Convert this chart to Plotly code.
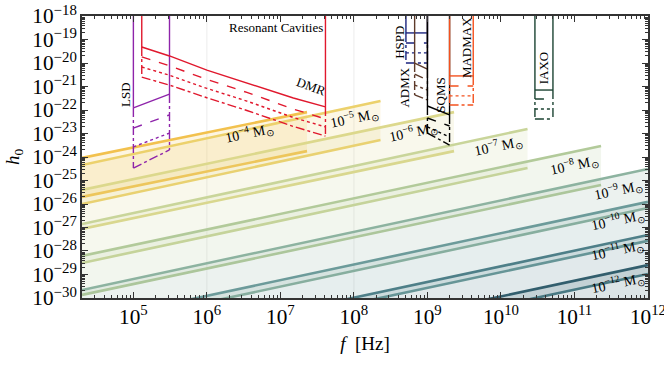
import numpy as np
import plotly.graph_objects as go

# ---- PBH binary bands (log10 of h0 at band start / end) ----
mass_labels = ["10<sup>−4</sup>", "10<sup>−5</sup>", "10<sup>−6</sup>", "10<sup>−7</sup>",
               "10<sup>−8</sup>", "10<sup>−9</sup>", "10<sup>−10</sup>", "10<sup>−11</sup>",
               "10<sup>−12</sup>"]
mass_colors = ["#f2c14e", "#ecd16c", "#dcd88c", "#c9d59a", "#b2ca9a",
               "#8db3a0", "#6c9b9a", "#4e7f88", "#325e6d"]
band_f_start = [2e4, 2e4, 2e4, 2e4, 2e4, 2e4, 2e4, 2e4, 2e4]
band_f_end = [2.3e7, 2.3e8, 2.3e9, 2.3e10, 2.3e11, 1e12, 1e12, 1e12, 1e12]
top_logh_start = [-24.04, -24.34, -25.40, -26.85, -28.21, -29.66, -31.04, -32.45, -33.73]
top_logh_end = [-22.09, -21.62, -22.09, -22.81, -23.53, -24.51, -25.91, -27.32, -28.60]
low_logh_start = [-25.70, -26.00, -27.06, -28.51, -29.87, -31.32, -32.70, -34.11, -35.39]
low_logh_end = [-23.75, -23.28, -23.75, -24.47, -25.19, -26.17, -27.57, -28.98, -30.26]

# label placement for the mass bands (log10 f, log10 h)
mass_label_pos = [(6.57, -22.98), (8.0, -22.34), (8.80, -22.94), (9.96, -23.53),
                  (10.99, -24.34), (11.59, -25.40), (11.59, -26.68), (11.59, -27.96),
                  (11.59, -29.36)]

# ---- detectors: frequency edges and log10 h0 for 4 scenarios ----
# scenarios: solid, dashed, dotted, dash-dot
lsd_f = [1.0e5, 3.1e5]
lsd_logh = [[-21.91, -21.32], [-22.77, -22.21], [-23.57, -22.98], [-24.47, -23.70]]

dmr_f = [1.3e5, 3.1e5, 1.0e6, 3.5e6, 1.5e7, 4.1e7]
dmr_logh = [[-19.32, -19.70, -20.30, -20.85, -21.49, -21.87],
            [-19.74, -20.12, -20.70, -21.25, -21.96, -22.38],
            [-20.17, -20.52, -21.08, -21.62, -22.32, -22.72],
            [-20.60, -20.94, -21.48, -22.02, -22.70, -23.11]]

hspd_f = [5.1e8, 1.0e9]
hspd_logh = [[-18.72, -18.72], [-19.15, -19.15], [-19.57, -19.57], [-20.0, -20.0]]

admx_f = [6.7e8, 1.0e9]
admx_logh = [[-20.0, -20.26], [-20.47, -20.72], [-20.94, -21.15], [-21.36, -21.57]]

sqms_f = [1.0e9, 2.0e9]
sqms_logh = [[-21.83, -22.21], [-22.34, -22.68], [-22.72, -23.15], [-22.98, -23.49]]

madmax_f = [2.0e9, 4.2e9]
madmax_logh = [[-20.55, -20.55], [-20.98, -20.98], [-21.40, -21.40], [-21.79, -21.79]]

iaxo_f = [2.9e10, 5.1e10]
iaxo_logh = [[-21.15, -21.15], [-21.53, -21.53], [-21.96, -21.96], [-22.38, -22.38]]

detectors = [
    ("LSD", lsd_f, lsd_logh, "#8e24aa", (4.90, -21.36), -90),
    ("DMR", dmr_f, dmr_logh, "#e0182d", (7.42, -21.02), 20),
    ("HSPD", hspd_f, hspd_logh, "#1a237e", (8.61, -19.11), -90),
    ("ADMX", admx_f, admx_logh, "#5d3a2a", (8.69, -21.06), -90),
    ("SQMS", sqms_f, sqms_logh, "#000000", (9.18, -21.36), -90),
    ("MADMAX", madmax_f, madmax_logh, "#f4511e", (9.54, -19.36), -90),
    ("IAXO", iaxo_f, iaxo_logh, "#1b4332", (10.59, -20.21), -90),
]

H_TOP = 1e-18
FONT = "Liberation Serif"


def rgba(hex_color, a):
    h = hex_color.lstrip("#")
    r, g, b = (int(h[i:i + 2], 16) for i in (0, 2, 4))
    return f"rgba({r},{g},{b},{a})"


fig = go.Figure()

# faint vertical guides
for fv in [1e6, 1e8]:
    fig.add_trace(go.Scatter(x=[fv, fv], y=[1e-30, 1e-18], mode="lines",
                             line=dict(color="rgba(0,0,0,0.08)", width=1),
                             showlegend=False, hoverinfo="skip"))

# PBH bands
for i, col in enumerate(mass_colors):
    fx = [band_f_start[i], band_f_end[i]]
    low = 10 ** np.array([low_logh_start[i], low_logh_end[i]])
    top = 10 ** np.array([top_logh_start[i], top_logh_end[i]])
    fig.add_trace(go.Scatter(x=fx, y=low, mode="lines",
                             line=dict(color=col, width=2.6),
                             showlegend=False, hoverinfo="skip"))
    fig.add_trace(go.Scatter(x=fx, y=top, mode="lines", fill="tonexty",
                             fillcolor=rgba(col, 0.17),
                             line=dict(color=col, width=2.6),
                             showlegend=False, hoverinfo="skip"))

# detectors
dashes = ["solid", "dash", "dot", "dashdot"]
for name, fx, logh, col, lpos, ang in detectors:
    hh = [10 ** np.array(c) for c in logh]
    for c, d in zip(hh, dashes):
        fig.add_trace(go.Scatter(x=fx, y=c, mode="lines",
                                 line=dict(color=col, width=1.4, dash=d),
                                 showlegend=False, hoverinfo="skip"))
    for j in (0, -1):
        fig.add_trace(go.Scatter(x=[fx[j], fx[j]], y=[H_TOP, hh[0][j]], mode="lines",
                                 line=dict(color=col, width=1.4),
                                 showlegend=False, hoverinfo="skip"))
        fig.add_trace(go.Scatter(x=[fx[j], fx[j]], y=[hh[0][j], hh[-1][j]], mode="lines",
                                 line=dict(color=col, width=1.4, dash="dashdot"),
                                 showlegend=False, hoverinfo="skip"))
    fig.add_annotation(x=lpos[0], y=lpos[1], text=name, showarrow=False,
                       textangle=ang, font=dict(family=FONT, size=13, color="black"))

fig.add_annotation(x=6.935, y=-18.47, text="Resonant Cavities", showarrow=False,
                   font=dict(family=FONT, size=13, color="black"))

for lab, (lx, ly) in zip(mass_labels, mass_label_pos):
    fig.add_annotation(x=lx, y=ly, text=lab + " M<sub>⊙</sub>", showarrow=False,
                       textangle=-12, font=dict(family=FONT, size=14, color="black"))

axis_common = dict(
    type="log", dtick=1, exponentformat="power", showexponent="all",
    ticks="inside", ticklen=6, tickwidth=1, tickcolor="#333",
    showline=True, linecolor="#333", linewidth=1.5, mirror="allticks",
    showgrid=False, zeroline=False, automargin=False, ticklabeloverflow="allow",
    tickfont=dict(family=FONT, size=17, color="black"),
    minor=dict(ticks="inside", ticklen=3, tickcolor="#333", dtick="D1", showgrid=False),
)

fig.update_xaxes(range=[np.log10(2e4), 12.0005],
                 title=dict(text="<i>f</i>  [Hz]", font=dict(family=FONT, size=19, color="black"),
                            standoff=8),
                 **axis_common)
fig.update_yaxes(range=[-30.0005, -17.9995],
                 title=dict(text="<i>h</i><sub>0</sub>", font=dict(family=FONT, size=19, color="black"),
                            standoff=8),
                 **axis_common)

fig.update_layout(
    width=664, height=383,
    margin=dict(l=82, r=16, t=16, b=85),
    paper_bgcolor="white", plot_bgcolor="white",
    showlegend=False,
)

# drop the default 8px body margin so the figure sits at the window origin
fig.write_html("out.html", config={"displayModeBar": False},
               post_script="document.body.style.margin='0';document.body.style.overflow='hidden';")
